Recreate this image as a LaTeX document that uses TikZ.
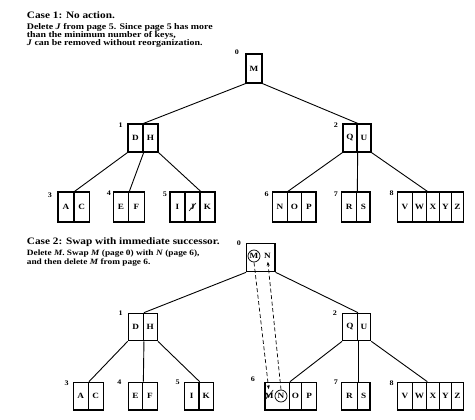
\documentclass[tikz,border=0pt]{standalone}
\usepackage{fontspec}
\setmainfont{Liberation Serif}
\newfontfamily\wfont[FakeStretch=1.15]{Liberation Serif}
\usetikzlibrary{arrows.meta}
\tikzset{
  cell/.style={draw, line width=1.3pt, inner sep=0pt, font=\wfont\bfseries\fontsize{8}{8}\selectfont},
  lbl/.style={inner sep=0pt, font=\wfont\bfseries\fontsize{7}{7}\selectfont},
  key/.style={inner sep=0pt, font=\wfont\bfseries\fontsize{8}{8}\selectfont},
  ring/.style={circle, draw, line width=0.7pt, inner sep=0pt, minimum size=12pt, font=\wfont\bfseries\fontsize{8}{8}\selectfont},
  edge/.style={line width=0.9pt},
  swap/.style={line width=0.7pt, dash pattern=on 4pt off 2.5pt, -{Stealth[length=4pt,width=3pt]}},
  strike/.style={line width=0.6pt},
  ttl/.style={anchor=base west, inner sep=0pt, font=\wfont\bfseries\fontsize{9.8}{11}\selectfont},
  body/.style={anchor=base west, inner sep=0pt, font=\wfont\bfseries\fontsize{8.6}{9}\selectfont},
  bodyb/.style={anchor=base west, inner sep=0pt, font=\wfont\bfseries\fontsize{8.1}{9}\selectfont}
}
\begin{document}
\begin{tikzpicture}[x=1pt,y=-1pt]
\useasboundingbox[fill=white] (0,0) rectangle (475,420);

% ---------- Case 1 text ----------
\node[ttl] (t1) at (26.7,19) {Case 1: No action.};
\node[body] (t1a) at (26.7,29.5) {Delete \textit{J} from page 5. Since page 5 has more};
\node[body] (t1b) at (26.7,37.5) {than the minimum number of keys,};
\node[body] (t1c) at (26.7,45.5) {\textit{J} can be removed without reorganization.};

% ---------- Case 1 tree ----------
\node[cell, minimum width=16pt, minimum height=29pt] (r) at (254,68.5) {M};
\node[lbl] (l0) at (237,52) {0};

\node[cell, minimum width=15pt, minimum height=28pt] (n1a) at (135.5,138) {D};
\node[cell, minimum width=15pt, minimum height=28pt] (n1b) at (150.5,138) {H};
\node[lbl] (l1) at (120.7,125) {1};

\node[cell, minimum width=14pt, minimum height=28pt] (n2a) at (350,138) {Q};
\node[cell, minimum width=14pt, minimum height=28pt] (n2b) at (364,138) {U};
\node[lbl] (l2) at (336,125) {2};

\node[cell, minimum width=16pt, minimum height=30pt] (n3a) at (66,207) {A};
\node[cell, minimum width=15.4pt, minimum height=30pt] (n3b) at (81.7,207) {C};
\node[lbl] (l3) at (50,195) {3};

\node[cell, minimum width=15.4pt, minimum height=30pt] (n4a) at (121,207) {E};
\node[cell, minimum width=15.6pt, minimum height=30pt] (n4b) at (136.5,207) {F};
\node[lbl] (l4) at (109,193) {4};

\node[cell, minimum width=15pt, minimum height=30pt] (n5a) at (177.5,207) {I};
\node[cell, minimum width=15pt, minimum height=30pt] (n5b) at (192.5,207) {J};
\node[cell, minimum width=15pt, minimum height=30pt] (n5c) at (207.5,207) {K};
\node[lbl] (l5) at (165,194) {5};

\node[cell, minimum width=14.6pt, minimum height=30pt] (n6a) at (280,207) {N};
\node[cell, minimum width=14.4pt, minimum height=30pt] (n6b) at (294.5,207) {O};
\node[cell, minimum width=14.3pt, minimum height=30pt] (n6c) at (308.85,207) {P};
\node[lbl] (l6) at (266.7,194) {6};

\node[cell, minimum width=15pt, minimum height=30pt] (n7a) at (349.2,207) {R};
\node[cell, minimum width=13.3pt, minimum height=30pt] (n7b) at (363.35,207) {S};
\node[lbl] (l7) at (336,194) {7};

\node[cell, minimum width=14.6pt, minimum height=30pt] (n8a) at (405,207) {V};
\node[cell, minimum width=14.4pt, minimum height=30pt] (n8b) at (419.5,207) {W};
\node[cell, minimum width=12.6pt, minimum height=30pt] (n8c) at (433,207) {X};
\node[cell, minimum width=12.4pt, minimum height=30pt] (n8d) at (445.5,207) {Y};
\node[cell, minimum width=11.6pt, minimum height=30pt] (n8e) at (457.5,207) {Z};
\node[lbl] (l8) at (391.7,193) {8};

\draw[strike] ([shift={(-3.5,4)}]n5b.center) -- ([shift={(3.5,-4)}]n5b.center);

\draw[edge] (r.south west) -- (n1a.north east);
\draw[edge] (r.south east) -- (n2a.north east);
\draw[edge] (n1a.south west) -- (n3a.north east);
\draw[edge] (n1a.south east) -- (n4a.north east);
\draw[edge] (n1b.south east) -- (n5b.north east);
\draw[edge] (n2a.south west) -- (n6a.north east);
\draw[edge] (n2a.south east) -- (n7a.north east);
\draw[edge] (n2b.south east) -- (n8b.north east);

% ---------- Case 2 text ----------
\node[ttl] (t2) at (26.7,245) {Case 2: Swap with immediate successor.};
\node[bodyb] (t2a) at (26.7,255) {Delete \textit{M}. Swap \textit{M} (page 0) with \textit{N} (page 6),};
\node[bodyb] (t2b) at (26.7,264.5) {and then delete \textit{M} from page 6.};

% ---------- Case 2 tree ----------
\node[cell, minimum width=28.3pt, minimum height=28.4pt] (R) at (260.85,257.5) {};
\node[ring] (cM0) at (254,256) {M};
\node[key] (rN) at (267.5,256) {N};
\node[lbl] (L0) at (239,243) {0};

\node[cell, minimum width=15pt, minimum height=27.4pt] (N1a) at (135.8,327) {D};
\node[cell, minimum width=14pt, minimum height=27.4pt] (N1b) at (150.3,327) {H};
\node[lbl] (L1) at (120.7,312.7) {1};

\node[cell, minimum width=14.6pt, minimum height=27.4pt] (N2a) at (350,327) {Q};
\node[cell, minimum width=13.4pt, minimum height=27.4pt] (N2b) at (364,327) {U};
\node[lbl] (L2) at (335,313) {2};

\node[cell, minimum width=15pt, minimum height=27.7pt] (N3a) at (80.8,396.2) {A};
\node[cell, minimum width=15pt, minimum height=27.7pt] (N3b) at (95.8,396.2) {C};
\node[lbl] (L3) at (66.7,383) {3};

\node[cell, minimum width=14.4pt, minimum height=27.7pt] (N4a) at (135.5,396.2) {E};
\node[cell, minimum width=14.6pt, minimum height=27.7pt] (N4b) at (150,396.2) {F};
\node[lbl] (L4) at (119.3,382) {4};

\node[cell, minimum width=14.7pt, minimum height=27.7pt] (N5a) at (191.65,396.2) {I};
\node[cell, minimum width=14.3pt, minimum height=27.7pt] (N5b) at (206.15,396.2) {K};
\node[lbl] (L5) at (177.7,382) {5};

\node[cell, minimum width=24.3pt, minimum height=27.7pt] (N6a) at (277.15,396.2) {};
\node[key] (m6) at (269.2,396) {M};
\node[ring] (cN6) at (281,396) {N};
\node[cell, minimum width=12.4pt, minimum height=27.7pt] (N6b) at (295.5,396.2) {O};
\node[cell, minimum width=15pt, minimum height=27.7pt] (N6c) at (309.2,396.2) {P};
\node[lbl] (L6) at (253,379) {6};

\node[cell, minimum width=15.6pt, minimum height=27.7pt] (N7a) at (349.5,396.2) {R};
\node[cell, minimum width=12.7pt, minimum height=27.7pt] (N7b) at (363.65,396.2) {S};
\node[lbl] (L7) at (336,382) {7};

\node[cell, minimum width=14.6pt, minimum height=27.7pt] (N8a) at (405,396.2) {V};
\node[cell, minimum width=14.4pt, minimum height=27.7pt] (N8b) at (419.5,396.2) {W};
\node[cell, minimum width=12.6pt, minimum height=27.7pt] (N8c) at (433,396.2) {X};
\node[cell, minimum width=12.4pt, minimum height=27.7pt] (N8d) at (445.5,396.2) {Y};
\node[cell, minimum width=11.6pt, minimum height=27.7pt] (N8e) at (457.5,396.2) {Z};
\node[lbl] (L8) at (391.7,383) {8};

\draw[strike] ([shift={(-5,5)}]m6.center) -- ([shift={(4,-6)}]m6.center);

\draw[edge] (R.south west) -- (N1a.north east);
\draw[edge] (R.south east) -- (N2a.north east);
\draw[edge] (N1a.south west) -- (N3a.north east);
\draw[edge] (N1a.south east) -- (N4a.north east);
\draw[edge] (N1b.south east) -- (N5a.north east);
\draw[edge] (N2a.south west) -- (N6a.north east);
\draw[edge] (N2a.south east) -- (N7a.north east);
\draw[edge] (N2b.south east) -- (N8b.north east);

\draw[swap, shorten >=4pt] (cM0.south) -- (m6.north);
\draw[swap, shorten >=3pt] (cN6.north) -- (rN.south);
\end{tikzpicture}
\end{document}
